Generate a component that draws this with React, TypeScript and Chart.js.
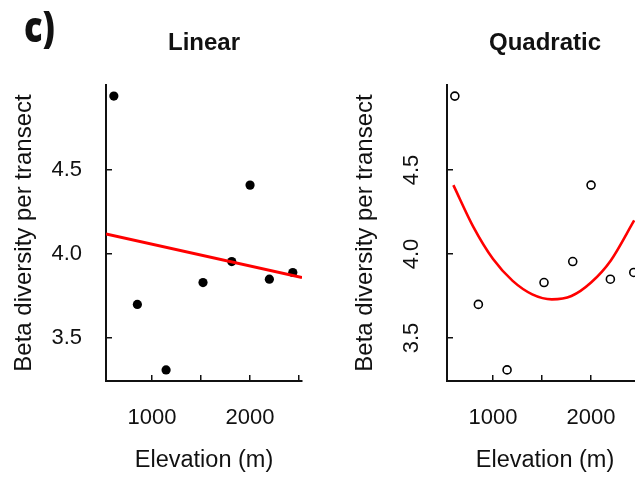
import React, { useEffect, useRef } from "react";
import { Chart, registerables } from "chart.js";

Chart.register(...registerables);

// Transect observations: elevation (m) and beta diversity per transect
const elevation = [610, 850, 1143, 1520, 1813, 2000, 2197, 2436];
const betaDiversity = [4.94, 3.7, 3.31, 3.83, 3.955, 4.41, 3.85, 3.89];

// Fitted linear model, evaluated at the ends of the elevation axis
const linearFitElevation = [530, 2530];
const linearFitBeta = [4.12, 3.86];

// Fitted quadratic model, evaluated along the elevation gradient
const quadraticFitElevation = [595, 800, 1000, 1200, 1400, 1600, 1800, 2000, 2200, 2440];
const quadraticFitBeta = [4.41, 4.16, 3.97, 3.84, 3.76, 3.73, 3.75, 3.83, 3.96, 4.2];

// Axis ranges and ticks
const elevationRange = [530, 2530];
const betaRange = [3.244, 5.006];
const elevationTicks = [1000, 1500, 2000, 2500];
const elevationTickLabels = ["1000", "", "2000", ""];
const betaTicks = [3.5, 4.0, 4.5];
const betaTickLabels = ["3.5", "4.0", "4.5"];

const INK = "#111111";
const FAMILY = "'Liberation Sans', Arial, sans-serif";

type PanelKind = "linear" | "quadratic";

interface PanelSpec {
  title: string;
  width: number;
  yAxisWidth: number;
  rightPad: number;
  yTitlePad: number;
  rotatedYLabels: boolean;
  fitX: number[];
  fitY: number[];
  smooth: boolean;
  fitWidth: number;
  filled: boolean;
}

const PANELS: Record<PanelKind, PanelSpec> = {
  linear: {
    title: "Linear",
    width: 320,
    yAxisWidth: 106,
    rightPad: 18,
    yTitlePad: 10,
    rotatedYLabels: false,
    fitX: linearFitElevation,
    fitY: linearFitBeta,
    smooth: false,
    fitWidth: 3,
    filled: true,
  },
  quadratic: {
    title: "Quadratic",
    width: 330,
    yAxisWidth: 127,
    rightPad: 7,
    yTitlePad: 31,
    rotatedYLabels: true,
    fitX: quadraticFitElevation,
    fitY: quadraticFitBeta,
    smooth: true,
    fitWidth: 2.6,
    filled: false,
  },
};

// Draws the panel heading and, where asked, y tick labels turned to read upwards
function panelDecorations(spec: PanelSpec) {
  return {
    id: "panelDecorations",
    afterDraw(chart: any) {
      const { ctx, chartArea } = chart;
      ctx.save();
      ctx.fillStyle = INK;
      ctx.font = `bold 24px ${FAMILY}`;
      ctx.textAlign = "center";
      ctx.textBaseline = "middle";
      ctx.fillText(spec.title, (chartArea.left + chartArea.right) / 2, 43);

      if (spec.rotatedYLabels) {
        const scale = chart.scales.y;
        ctx.font = `22px ${FAMILY}`;
        scale.ticks.forEach((tick: any, i: number) => {
          const y = scale.getPixelForValue(tick.value);
          ctx.save();
          ctx.translate(chartArea.left - 35, y);
          ctx.rotate(-Math.PI / 2);
          ctx.fillText(betaTickLabels[i], 0, 0);
          ctx.restore();
        });
      }
      ctx.restore();
    },
  };
}

function axisCommon() {
  return {
    grid: {
      display: true,
      drawOnChartArea: false,
      drawTicks: true,
      tickLength: -6,
      color: INK,
      lineWidth: 1.5,
    },
    border: { display: true, color: INK, width: 2 },
  };
}

function buildConfig(spec: PanelSpec): any {
  const points = elevation.map((x, i) => ({ x, y: betaDiversity[i] }));
  const fit = spec.fitX.map((x, i) => ({ x, y: spec.fitY[i] }));

  return {
    type: "scatter",
    data: {
      datasets: [
        {
          data: fit,
          showLine: true,
          borderColor: "#ff0000",
          borderWidth: spec.fitWidth,
          pointRadius: 0,
          tension: spec.smooth ? 0.4 : 0,
          cubicInterpolationMode: spec.smooth ? "monotone" : "default",
          fill: false,
        },
        {
          data: points,
          showLine: false,
          pointRadius: spec.filled ? 4.6 : 4,
          pointBorderWidth: spec.filled ? 0 : 1.6,
          pointBackgroundColor: spec.filled ? "#000000" : "rgba(0,0,0,0)",
          pointBorderColor: "#000000",
        },
      ],
    },
    options: {
      animation: false,
      responsive: false,
      devicePixelRatio: 1,
      events: [],
      layout: { padding: { top: 85, right: spec.rightPad, bottom: 0, left: 0 } },
      plugins: {
        legend: { display: false },
        tooltip: { enabled: false },
        title: { display: false },
      },
      scales: {
        x: {
          type: "linear",
          position: "bottom",
          min: elevationRange[0],
          max: elevationRange[1],
          afterBuildTicks: (scale: any) => {
            scale.ticks = elevationTicks.map((value) => ({ value }));
          },
          afterFit: (scale: any) => {
            scale.height = 98;
            scale.paddingLeft = 0;
            scale.paddingRight = 0;
          },
          ticks: {
            autoSkip: false,
            maxRotation: 0,
            minRotation: 0,
            padding: 30,
            color: INK,
            font: { family: FAMILY, size: 22 },
            callback: (_v: any, i: number) => elevationTickLabels[i],
          },
          title: {
            display: true,
            text: "Elevation (m)",
            color: INK,
            font: { family: FAMILY, size: 23.5 },
            padding: { top: 0, bottom: 4 },
          },
          ...axisCommon(),
        },
        y: {
          type: "linear",
          position: "left",
          min: betaRange[0],
          max: betaRange[1],
          afterBuildTicks: (scale: any) => {
            scale.ticks = betaTicks.map((value) => ({ value }));
          },
          afterFit: (scale: any) => {
            scale.width = spec.yAxisWidth;
            scale.paddingTop = 0;
            scale.paddingBottom = 0;
          },
          ticks: {
            display: !spec.rotatedYLabels,
            padding: 30,
            color: INK,
            font: { family: FAMILY, size: 22 },
            callback: (_v: any, i: number) => betaTickLabels[i],
          },
          title: {
            display: true,
            text: "Beta diversity per transect",
            color: INK,
            font: { family: FAMILY, size: 24 },
            padding: { top: spec.yTitlePad, bottom: 0 },
          },
          ...axisCommon(),
        },
      },
    },
    plugins: [panelDecorations(spec)],
  };
}

function Panel({ kind, left }: { kind: PanelKind; left: number }) {
  const ref = useRef<HTMLCanvasElement | null>(null);
  const spec = PANELS[kind];

  useEffect(() => {
    if (!ref.current) return;
    const chart = new Chart(ref.current, buildConfig(spec));
    return () => chart.destroy();
  }, [kind]);

  return (
    <canvas
      ref={ref}
      width={spec.width}
      height={479}
      style={{ position: "absolute", left, top: 0, width: spec.width, height: 479 }}
    />
  );
}

export default function App() {
  return (
    <div
      style={{
        position: "fixed",
        left: 0,
        top: 0,
        width: 635,
        height: 479,
        overflow: "hidden",
        background: "#ffffff",
      }}
    >
      <Panel kind="linear" left={0} />
      <Panel kind="quadratic" left={320} />
      <div
        style={{
          position: "absolute",
          left: 24,
          top: 4,
          fontFamily: "'Open Sans', sans-serif",
          fontWeight: 800,
          fontSize: 43,
          lineHeight: "43px",
          color: INK,
          transform: "scaleX(0.8)",
          transformOrigin: "left top",
        }}
      >
        c)
      </div>
    </div>
  );
}
